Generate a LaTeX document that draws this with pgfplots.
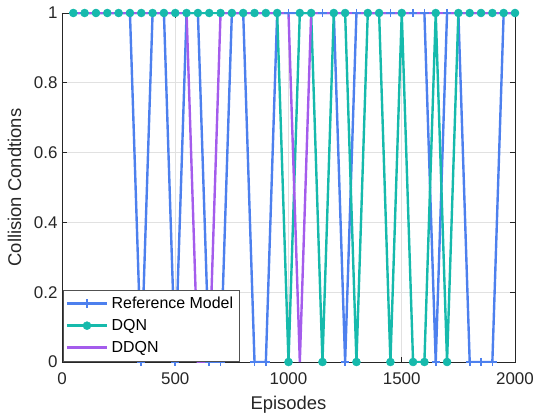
\documentclass[border=0pt]{standalone}
\usepackage{pgfplots}
\pgfplotsset{compat=1.18}
\usepackage{pgfplotstable}
\usepackage{fontspec}
\setmainfont{Liberation Sans}
\definecolor{cref}{RGB}{77,128,238}
\definecolor{cdqn}{RGB}{22,186,172}
\definecolor{cddqn}{RGB}{164,92,236}
\definecolor{cgrid}{RGB}{225,225,225}
\definecolor{caxis}{RGB}{38,38,38}
\pgfplotstableread{
x ref dqn ddqn
50 1 1 1
100 1 1 1
150 1 1 1
200 1 1 1
250 1 1 1
300 1 1 1
350 0 1 1
400 1 1 1
450 1 1 1
500 0 1 1
550 1 1 1
600 1 1 0
650 0 1 0
700 0 1 1
750 1 1 1
800 1 1 1
850 0 1 1
900 0 1 1
950 1 1 1
1000 1 0 1
1050 1 1 0
1100 1 1 1
1150 1 0 1
1200 1 1 1
1250 0 1 1
1300 1 0 1
1350 1 1 1
1400 1 1 1
1450 1 0 1
1500 1 1 1
1550 1 0 1
1600 1 0 1
1650 0 1 1
1700 1 0 1
1750 1 1 1
1800 0 1 1
1850 0 1 1
1900 0 1 1
1950 1 1 1
2000 1 1 1
}\datatab
\begin{document}
\begin{tikzpicture}
\begin{axis}[
  scale only axis,
  width=453bp, height=349bp,
  xmin=0, xmax=2000, ymin=0, ymax=1,
  xtick={0,500,1000,1500,2000},
  ytick={0,0.2,0.4,0.6,0.8,1},
  yticklabels={0,0.2,0.4,0.6,0.8,1},
  scaled x ticks=false,
  /pgf/number format/assume math mode=true,
  /pgf/number format/1000 sep={},
  tick label style={font=\fontsize{17}{20}\selectfont, color=caxis},
  xticklabel style={yshift=-7bp},
  yticklabel style={xshift=-1bp},
  xlabel={Episodes}, ylabel={Collision Condtions},
  every axis x label/.style={at={(axis description cs:0.5,-0.1347)}, anchor=base,
    font=\fontsize{18.5}{22}\selectfont, color=caxis},
  every axis y label/.style={at={(axis description cs:-0.0905,0.5)}, anchor=base, rotate=90,
    font=\fontsize{18.5}{22}\selectfont, color=caxis},
  grid=major,
  major grid style={cgrid, line width=0.8pt},
  tick align=inside, tick pos=both,
  major tick length=5bp,
  axis line style={caxis, line width=0.9pt},
  every tick/.style={caxis, line width=0.8pt},
  legend cell align=left,
  legend style={at={(0.002,0.002)}, anchor=south west, draw=caxis!80, fill=white,
    font=\fontsize{16}{19}\selectfont, row sep=0pt, inner sep=2.5bp,
    line width=0.8pt, nodes={inner xsep=3.5bp, inner ysep=4.6bp}},
  legend image code/.code={\draw[mark repeat=2,mark phase=2,#1] plot coordinates {(0bp,0bp) (20bp,0bp) (40bp,0bp)};},
]
\addplot[cref, line width=2.4pt, mark=+, mark size=4.2pt, mark options={line width=1.7pt}] table[x=x,y=ref] {\datatab};
\addlegendentry{Reference Model}
\addplot[cdqn, line width=2.4pt, mark=*, mark size=4pt, mark options={fill=cdqn, draw=cdqn, line width=0.5pt}] table[x=x,y=dqn] {\datatab};
\addlegendentry{DQN}
\addplot[cddqn, line width=2.4pt] table[x=x,y=ddqn] {\datatab};
\addlegendentry{DDQN}
\end{axis}
\pgfresetboundingbox
\path (current axis.south west) ++(-62bp,-56bp) rectangle ++(534bp,418bp);
\end{tikzpicture}
\end{document}
